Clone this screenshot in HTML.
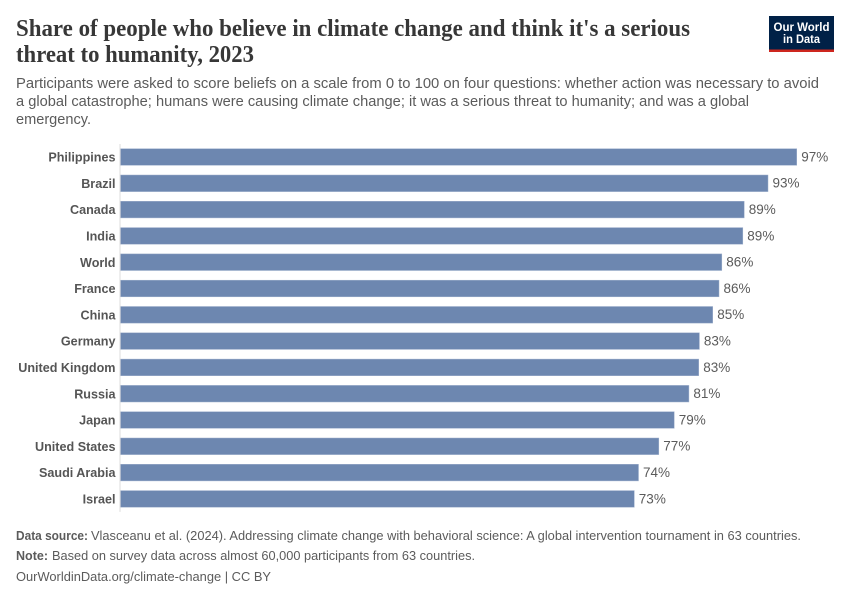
<!DOCTYPE html>
<html lang="en">
<head>
<meta charset="utf-8">
<title>Share of people who believe in climate change</title>
<style>
  html, body { margin: 0; padding: 0; background: #fff; }
  svg { display: block; font-family: "Liberation Sans", sans-serif; }
</style>
</head>
<body>
<svg id="chart" xmlns="http://www.w3.org/2000/svg" width="850" height="600" viewBox="0 0 850 600">
  <rect x="0" y="0" width="850" height="600" fill="#ffffff"/>

  <g font-family="'Liberation Serif', serif" font-weight="700" font-size="24" fill="#373737">
    <text x="16" y="36" textLength="674" lengthAdjust="spacingAndGlyphs">Share of people who believe in climate change and think it's a serious</text>
    <text x="16" y="62" textLength="238" lengthAdjust="spacingAndGlyphs">threat to humanity, 2023</text>
  </g>

  <g font-size="14.5" fill="#5b5b5b">
    <text x="16" y="88" textLength="803" lengthAdjust="spacingAndGlyphs">Participants were asked to score beliefs on a scale from 0 to 100 on four questions: whether action was necessary to avoid</text>
    <text x="16" y="106" textLength="733" lengthAdjust="spacingAndGlyphs">a global catastrophe; humans were causing climate change; it was a serious threat to humanity; and was a global</text>
    <text x="16" y="124" textLength="75" lengthAdjust="spacingAndGlyphs">emergency.</text>
  </g>

  <a>
    <rect x="769" y="16" width="65" height="36" fill="#002147"/>
    <rect x="769" y="49.5" width="65" height="2.5" fill="#ce261e"/>
    <text x="801.5" y="31" text-anchor="middle" font-size="11.5" font-weight="700" fill="#ffffff" textLength="56" lengthAdjust="spacingAndGlyphs">Our World</text>
    <text x="801.5" y="43" text-anchor="middle" font-size="11.5" font-weight="700" fill="#ffffff" textLength="37" lengthAdjust="spacingAndGlyphs">in Data</text>
  </a>

  <g id="plot"></g>

  <g font-size="13" fill="#5b5b5b">
    <text x="16" y="540" font-weight="700" textLength="72" lengthAdjust="spacingAndGlyphs">Data source:</text>
    <text x="91" y="540" textLength="710" lengthAdjust="spacingAndGlyphs">Vlasceanu et al. (2024). Addressing climate change with behavioral science: A global intervention tournament in 63 countries.</text>
    <text x="16" y="560" font-weight="700" textLength="32" lengthAdjust="spacingAndGlyphs">Note:</text>
    <text x="52" y="560" textLength="423" lengthAdjust="spacingAndGlyphs">Based on survey data across almost 60,000 participants from 63 countries.</text>
    <a>
      <text x="16" y="581" textLength="255" lengthAdjust="spacingAndGlyphs">OurWorldinData.org/climate-change | CC BY</text>
    </a>
  </g>
</svg>

<script>
const categories = ["Philippines", "Brazil", "Canada", "India", "World", "France", "China", "Germany", "United Kingdom", "Russia", "Japan", "United States", "Saudi Arabia", "Israel"];
const shareValues = [96.6, 92.5, 89.1, 88.9, 85.9, 85.5, 84.6, 82.7, 82.6, 81.2, 79.1, 76.9, 74.0, 73.4];

const SVG_NS = "http://www.w3.org/2000/svg";
const plot = document.getElementById("plot");
const AXIS_X = 120.5;
const PX_PER_UNIT = 7;
const FIRST_ROW_CENTER = 157;
const ROW_STEP = 26.3;
const BAR_HEIGHT = 16.6;

function xScale(value) {
  return AXIS_X + value * PX_PER_UNIT;
}
function yScale(index) {
  return FIRST_ROW_CENTER + index * ROW_STEP;
}

categories.forEach(function (category, i) {
  const value = shareValues[i];
  const slug = category.toLowerCase().replace(/\s+/g, "-");
  const cy = yScale(i);

  const label = document.createElementNS(SVG_NS, "text");
  
  
  label.setAttribute("x", AXIS_X - 5);
  label.setAttribute("y", cy + 4.6);
  label.setAttribute("text-anchor", "end");
  label.setAttribute("font-size", "12.6");
  label.setAttribute("font-weight", "700");
  label.setAttribute("fill", "#555555");
  label.textContent = category;
  plot.appendChild(label);

  const bar = document.createElementNS(SVG_NS, "rect");
  
  
  bar.setAttribute("x", AXIS_X);
  bar.setAttribute("y", cy - BAR_HEIGHT / 2);
  bar.setAttribute("width", xScale(value) - AXIS_X);
  bar.setAttribute("height", BAR_HEIGHT);
  bar.setAttribute("fill", "#6d87b0");
  bar.setAttribute("stroke", "#9fb0cc");
  bar.setAttribute("stroke-width", "0.5");
  plot.appendChild(bar);

  const valueLabel = document.createElementNS(SVG_NS, "text");
  
  
  valueLabel.setAttribute("x", xScale(value) + 4.5);
  valueLabel.setAttribute("y", cy + 4.4);
  valueLabel.setAttribute("font-size", "13.5");
  valueLabel.setAttribute("fill", "#5b5b5b");
  valueLabel.textContent = Math.round(value) + "%";
  plot.appendChild(valueLabel);
});

const axisLine = document.createElementNS(SVG_NS, "line");


axisLine.setAttribute("x1", AXIS_X - 0.5);
axisLine.setAttribute("x2", AXIS_X - 0.5);
axisLine.setAttribute("y1", yScale(0) - 13);
axisLine.setAttribute("y2", yScale(categories.length - 1) + 13);
axisLine.setAttribute("stroke", "#dddddd");
axisLine.setAttribute("stroke-width", "1");
plot.appendChild(axisLine);
</script>
</body>
</html>
